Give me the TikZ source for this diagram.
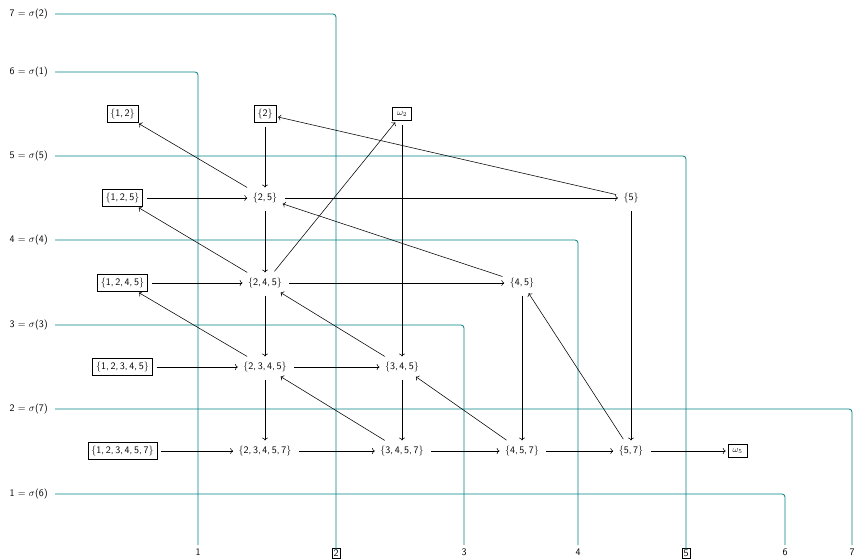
\documentclass[tikz,border=0pt]{standalone}
\usetikzlibrary{arrows.meta}
\newcommand{\stt}[1]{\textbraceleft#1\textbraceright}
\begin{document}
\begin{tikzpicture}[x=1pt,y=-1pt,
  lbl/.style={font=\sffamily, inner sep=1pt},
  setn/.style={font=\sffamily},
  bx/.style={draw, font=\sffamily, line width=0.6pt},
  wbx/.style={draw, font=\small, line width=0.6pt, inner sep=3pt, minimum width=19pt, minimum height=13pt},
  wire/.style={teal, line width=0.8pt, rounded corners=3pt},
  arr/.style={->, line width=0.55pt, shorten <=4pt, shorten >=2pt}]
\useasboundingbox (0,0) rectangle (855,560);
% left labels
\node[lbl, anchor=east] (l7) at (49,14) {7 $=$ $\sigma$(2)};
\node[lbl, anchor=east] (l6) at (49,72) {6 $=$ $\sigma$(1)};
\node[lbl, anchor=east] (l5) at (49,156) {5 $=$ $\sigma$(5)};
\node[lbl, anchor=east] (l4) at (49,240) {4 $=$ $\sigma$(4)};
\node[lbl, anchor=east] (l3) at (49,325) {3 $=$ $\sigma$(3)};
\node[lbl, anchor=east] (l2) at (49,409) {2 $=$ $\sigma$(7)};
\node[lbl, anchor=east] (l1) at (49,494) {1 $=$ $\sigma$(6)};
% bottom labels
\node[setn] (b1) at (198,552) {1};
\node[bx, inner sep=1.5pt] (b2) at (336,553) {2};
\node[setn] (b3) at (464,552) {3};
\node[setn] (b4) at (578,552) {4};
\node[bx, inner sep=1.5pt] (b5) at (686,553) {5};
\node[setn] (b6) at (785,552) {6};
\node[setn] (b7) at (852,552) {7};
% wires
\draw[wire] ([xshift=6pt]l7.east) -| ([yshift=-2pt]b2.north);
\draw[wire] ([xshift=6pt]l6.east) -| (b1.north);
\draw[wire] ([xshift=6pt]l5.east) -| ([yshift=-2pt]b5.north);
\draw[wire] ([xshift=6pt]l4.east) -| (b4.north);
\draw[wire] ([xshift=6pt]l3.east) -| (b3.north);
\draw[wire] ([xshift=6pt]l2.east) -| (b7.north);
\draw[wire] ([xshift=6pt]l1.east) -| (b6.north);
% nodes
\node[bx] (n12) at (122.5,114) {\stt{1,\,2}};
\node[bx] (n2) at (265,114) {\stt{2}};
\node[wbx] (w2) at (402,114) {$\omega_2$};
\node[bx] (n125) at (122.5,198) {\stt{1,\,2,\,5}};
\node[setn] (n25) at (265,198) {\stt{2,\,5}};
\node[setn] (n5) at (631,198) {\stt{5}};
\node[bx] (n1245) at (122.5,283) {\stt{1,\,2,\,4,\,5}};
\node[setn] (n245) at (265,283) {\stt{2,\,4,\,5}};
\node[setn] (n45) at (522,283) {\stt{4,\,5}};
\node[bx] (n12345) at (122.5,367) {\stt{1,\,2,\,3,\,4,\,5}};
\node[setn] (n2345) at (265,367) {\stt{2,\,3,\,4,\,5}};
\node[setn] (n345) at (402,367) {\stt{3,\,4,\,5}};
\node[bx] (n123457) at (122.5,451) {\stt{1,\,2,\,3,\,4,\,5,\,7}};
\node[setn] (n23457) at (265,451) {\stt{2,\,3,\,4,\,5,\,7}};
\node[setn] (n3457) at (402,451) {\stt{3,\,4,\,5,\,7}};
\node[setn] (n457) at (522,451) {\stt{4,\,5,\,7}};
\node[setn] (n57) at (631,451) {\stt{5,\,7}};
\node[wbx] (w5) at (737.5,451) {$\omega_5$};
% arrows
\draw[arr] (n25) -- (n12);
\draw[arr] (n2) -- (n25);
\draw[arr] (n5) -- (n2);
\draw[arr] (n125) -- (n25);
\draw[arr] (n25) -- (n5);
\draw[arr] (n25) -- (n245);
\draw[arr] (n245) -- (n125);
\draw[arr] (n45) -- (n25);
\draw[arr] (n245) -- (w2);
\draw[arr] (w2) -- (n345);
\draw[arr] (n1245) -- (n245);
\draw[arr] (n245) -- (n45);
\draw[arr] (n5) -- (n57);
\draw[arr] (n245) -- (n2345);
\draw[arr] (n2345) -- (n1245);
\draw[arr] (n345) -- (n245);
\draw[arr] (n45) -- (n457);
\draw[arr] (n57) -- (n45);
\draw[arr] (n12345) -- (n2345);
\draw[arr] (n2345) -- (n345);
\draw[arr] (n2345) -- (n23457);
\draw[arr] (n3457) -- (n2345);
\draw[arr] (n345) -- (n3457);
\draw[arr] (n457) -- (n345);
\draw[arr] (n123457) -- (n23457);
\draw[arr] (n23457) -- (n3457);
\draw[arr] (n3457) -- (n457);
\draw[arr] (n457) -- (n57);
\draw[arr] (n57) -- (w5);
\end{tikzpicture}
\end{document}
